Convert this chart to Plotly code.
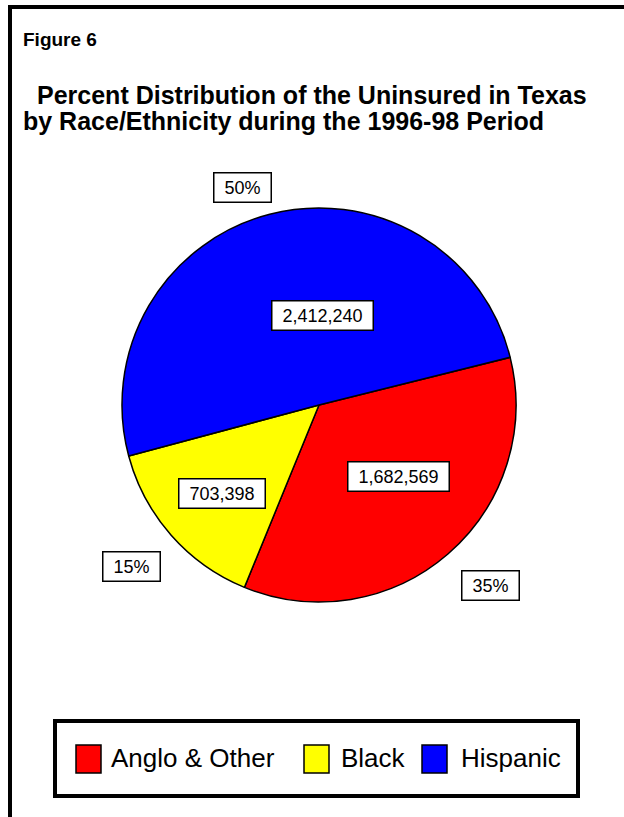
import plotly.graph_objects as go

# Uninsured Texans by race/ethnicity, 1996-98
categories = ["Anglo & Other", "Black", "Hispanic"]
uninsured = [1682569, 703398, 2412240]
colors = ["#FF0000", "#FFFF00", "#0000FF"]

W, H = 624, 817
FONT = "Liberation Sans, Arial, Helvetica, sans-serif"


def px(x):
    return x / W


def py(y):
    return 1 - y / H


total = sum(uninsured)
percents = [f"{round(v / total * 100)}%" for v in uninsured]
value_text = [f"{v:,}" for v in uninsured]

# pie geometry (pixels)
cx, cy, r = 319, 405, 197

fig = go.Figure(
    go.Pie(
        labels=categories,
        values=uninsured,
        sort=False,
        direction="clockwise",
        rotation=76,
        marker=dict(colors=colors, line=dict(color="black", width=1.5)),
        textinfo="none",
        hoverinfo="label+value+percent",
        showlegend=False,
        domain=dict(x=[px(cx - r), px(cx + r)], y=[py(cy + r), py(cy - r)]),
    )
)

shapes = []
# page frame: top rule and left rule
shapes.append(dict(type="rect", xref="paper", yref="paper",
                   x0=px(8), x1=px(W), y0=py(9), y1=py(5),
                   fillcolor="black", line=dict(width=0)))
shapes.append(dict(type="rect", xref="paper", yref="paper",
                   x0=px(8), x1=px(12), y0=py(H), y1=py(5),
                   fillcolor="black", line=dict(width=0)))

annotations = []


def text_ann(x, y, s, size, bold=False, xanchor="left"):
    annotations.append(dict(
        xref="paper", yref="paper", x=px(x), y=py(y), text=f"<b>{s}</b>" if bold else s,
        showarrow=False, xanchor=xanchor, yanchor="middle", borderpad=0,
        font=dict(family=FONT, size=size, color="black")))


text_ann(22, 40, "Figure 6", 19, bold=True)
# two title lines set close together
text_ann(36, 95, "Percent Distribution of the Uninsured in Texas", 25, bold=True)
text_ann(22, 121, "by Race/Ethnicity during the 1996-98 Period", 25, bold=True)


def label_width(s, size):
    em = {",": 0.278, "%": 0.889}
    return sum(em.get(c, 0.556) for c in s) * size


def boxed(x, y, s):
    annotations.append(dict(
        xref="paper", yref="paper", x=px(x), y=py(y), text=s,
        showarrow=False, xanchor="center", yanchor="middle",
        width=label_width(s, 18) + 16, height=24, borderpad=2,
        bordercolor="black", borderwidth=1.5, bgcolor="white",
        font=dict(family=FONT, size=18, color="black")))


# value labels inside slices, percent labels outside
value_pos = [(398, 476), (221.5, 493), (322, 315)]
pct_pos = [(490, 585), (131.5, 566), (242, 187.5)]
for (x, y), s in zip(value_pos, value_text):
    boxed(x, y, s)
for (x, y), s in zip(pct_pos, percents):
    boxed(x, y, s)

# legend box with swatches
shapes.append(dict(type="rect", xref="paper", yref="paper",
                   x0=px(55), x1=px(578), y0=py(796), y1=py(721),
                   line=dict(color="black", width=4), fillcolor="white", layer="below"))
swatch_x = [76, 304, 422]
text_x = [110, 340, 460]
for sx, tx, c, name in zip(swatch_x, text_x, colors, categories):
    shapes.append(dict(type="rect", xref="paper", yref="paper",
                       x0=px(sx), x1=px(sx + 25), y0=py(773), y1=py(745),
                       fillcolor=c, line=dict(color="black", width=1.5)))
    text_ann(tx, 758, name, 26)

fig.update_layout(
    width=W, height=H,
    margin=dict(l=0, r=0, t=0, b=0),
    paper_bgcolor="white", plot_bgcolor="white",
    shapes=shapes, annotations=annotations,
)

fig.write_html("out.html")
